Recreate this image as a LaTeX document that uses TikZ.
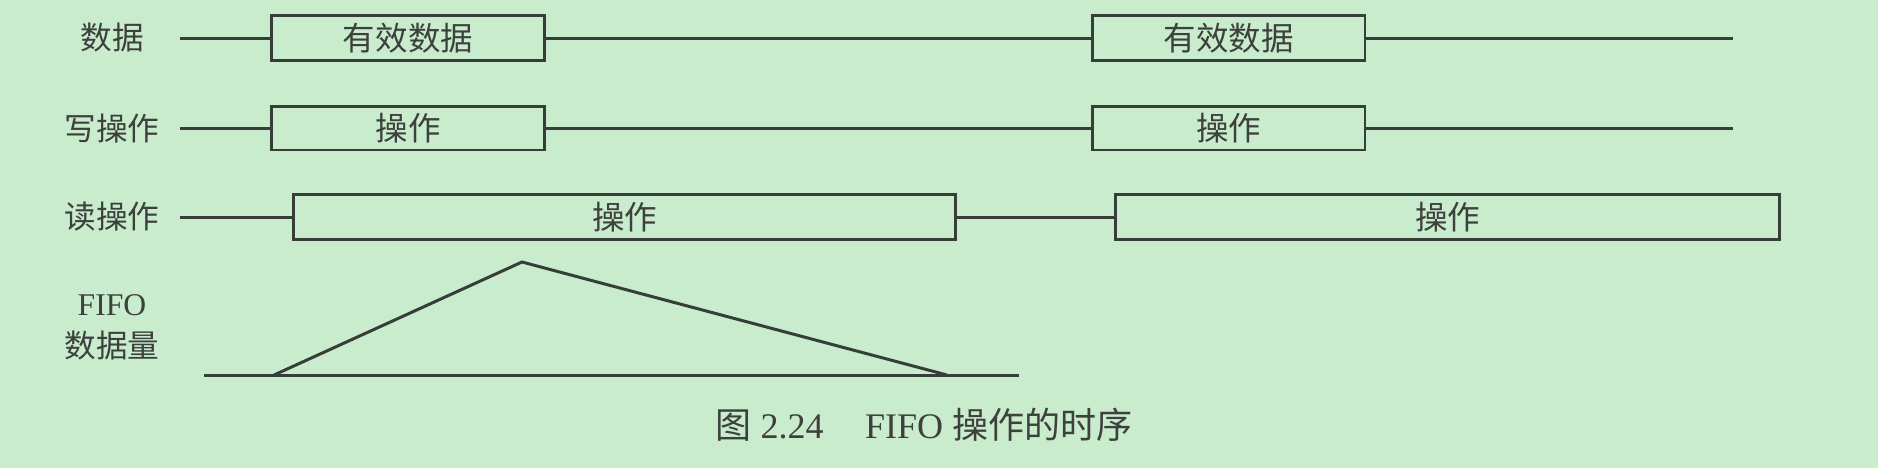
\documentclass[tikz,border=0pt]{standalone}
\usepackage{fontspec}
\setmainfont{Liberation Serif}
\newfontfamily\cjk{Noto Sans CJK SC}
\usepackage{xcolor}
\usepackage{tikz}
\usetikzlibrary{positioning,calc}

\definecolor{bggreen}{RGB}{200,236,204}
\definecolor{wirecol}{RGB}{55,62,57}
\definecolor{txtcol}{RGB}{62,64,62}

\begin{document}
\begin{tikzpicture}[
    x=0.02cm, y=-0.02cm,
    wire/.style={draw=wirecol, line width=1.7pt},
    wavebox/.style={rectangle, draw=wirecol, line width=1.7pt, minimum height=0.9cm, inner sep=0pt, text=txtcol, font=\cjk\fontsize{18.5}{20}\selectfont},
    siglabel/.style={text=txtcol, font=\cjk\fontsize{18}{20}\selectfont, inner sep=0pt},
    caption/.style={text=txtcol, font=\fontsize{20.5}{24}\selectfont, inner sep=0pt}
]
    % Background and bounding box
    \fill[bggreen] (0,0) rectangle (1878,468);
    \useasboundingbox (0,0) rectangle (1878,468);

    % Signal labels
    \node[siglabel] (ldata) at (112,38) {数据};
    \node[siglabel] (lwrite) at (112,128) {写操作};
    \node[siglabel] (lread) at (112,217) {读操作};
    \node[siglabel, font=\fontsize{18}{20}\selectfont] (lfifo) at (112,305) {FIFO};
    \node[siglabel] (lcount) at (112,346) {数据量};

    % Data row
    \coordinate (dstart) at (180,38);
    \coordinate (dend) at (1733,38);
    \node[wavebox, minimum width=5.48cm] (data1) at (408,38) {有效数据};
    \node[wavebox, minimum width=5.46cm] (data2) at (1228.5,38) {有效数据};
    \draw[wire] (dstart) -- (data1.west);
    \draw[wire] (data1.east) -- (data2.west);
    \draw[wire] (data2.east) -- (dend);

    % Write row
    \coordinate (wstart) at (180,128);
    \coordinate (wend) at (1733,128);
    \node[wavebox, minimum width=5.48cm, minimum height=0.88cm] (write1) at (408,128) {操作};
    \node[wavebox, minimum width=5.46cm, minimum height=0.88cm] (write2) at (1228.5,128) {操作};
    \draw[wire] (wstart) -- (write1.west);
    \draw[wire] (write1.east) -- (write2.west);
    \draw[wire] (write2.east) -- (wend);

    % Read row
    \coordinate (rstart) at (180,217);
    \node[wavebox, minimum width=13.26cm] (read1) at (624.5,217) {操作};
    \node[wavebox, minimum width=13.30cm] (read2) at (1447.5,217) {操作};
    \draw[wire] (rstart) -- (read1.west);
    \draw[wire] (read1.east) -- (read2.west);

    % FIFO fill level
    \coordinate (fleft) at (204,375);
    \coordinate (fright) at (1019,375);
    \coordinate (fup) at (274,375);
    \coordinate (fpeak) at (522,262);
    \coordinate (fdown) at (947,375);
    \draw[wire] (fleft) -- (fright);
    \draw[wire, line join=miter] (fup) -- (fpeak) -- (fdown);

    % Caption
    \node[caption] (cap) at (924,425) {{\cjk 图} 2.24\hspace{1.15em}FIFO {\cjk 操作的时序}};
\end{tikzpicture}
\end{document}
